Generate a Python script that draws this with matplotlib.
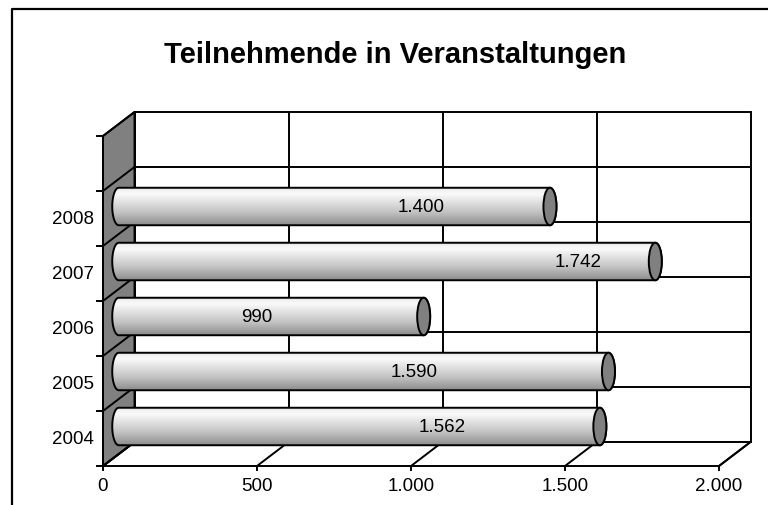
import numpy as np
import matplotlib
matplotlib.use('Agg')
import matplotlib.pyplot as plt
from matplotlib.patches import Polygon, Ellipse, PathPatch
from matplotlib.path import Path
from matplotlib.colors import LinearSegmentedColormap
from matplotlib.lines import Line2D

plt.rcParams['font.family'] = ['Liberation Sans', 'DejaVu Sans']

# ---------------- data ----------------
title = "Teilnehmende in Veranstaltungen"
years = ["2004", "2005", "2006", "2007", "2008"]
values = [1562, 1590, 990, 1742, 1400]
x_ticks = [0, 500, 1000, 1500, 2000]
x_max = 2000
n_slots = 6

# layout: value-axis positions where the data labels sit
label_pos = [1049, 959, 449, 1491, 981]


def de_fmt(v):
    return f"{v:,}".replace(",", ".")


# ---------------- figure / projection ----------------
W, H = 768, 506
fig = plt.figure(figsize=(W / 100, H / 100), dpi=100)
ax = fig.add_axes([0, 0, 1, 1])
ax.set_axis_off()

px_per_unit = 0.308
px_per_cat = 55.0
x0_px = 103
y0_px = 467
DX = 31.5 / px_per_unit
DY = 24.0 / px_per_cat
LW = 1.4


def P(v, c, d):
    return (v + d * DX, c + d * DY)


def line(p, q, **kw):
    ax.plot([p[0], q[0]], [p[1], q[1]], color='black', lw=kw.pop('lw', LW),
            solid_capstyle='butt', zorder=kw.pop('zorder', 2), **kw)


# back wall
ax.add_patch(Polygon([P(0, 0, 1), P(x_max, 0, 1), P(x_max, n_slots, 1), P(0, n_slots, 1)],
                     closed=True, fc='white', ec='black', lw=LW, zorder=1))
for v in x_ticks[1:-1]:
    line(P(v, 0, 1), P(v, n_slots, 1))
for k in range(1, n_slots):
    line(P(0, k, 1), P(x_max, k, 1))

# floor
ax.add_patch(Polygon([P(0, 0, 0), P(x_max, 0, 0), P(x_max, 0, 1), P(0, 0, 1)],
                     closed=True, fc='white', ec='black', lw=LW, zorder=1))
for v in x_ticks:
    line(P(v, 0, 0), P(v, 0, 1))
    # tick below the front edge
    ax.plot([v, v], [0, -4 / px_per_cat], color='black', lw=LW, zorder=2)
    ax.text(v, -20 / px_per_cat, de_fmt(v), ha='center', va='center', fontsize=13.5)

# left wall
ax.add_patch(Polygon([P(0, 0, 0), P(0, 0, 1), P(0, n_slots, 1), P(0, n_slots, 0)],
                     closed=True, fc='#808080', ec='black', lw=LW, zorder=1))
for k in range(0, n_slots + 1):
    line(P(0, k, 0), P(0, k, 1))
    ax.plot([-6 / px_per_unit, 0], [k, k], color='black', lw=LW, zorder=2)
ax.plot([0, 0], [0, n_slots], color='black', lw=LW, zorder=2)

for i, y in enumerate(years):
    ax.text(-9 / px_per_unit, i + 0.5, y, ha='right', va='center', fontsize=13.5)

# ---------------- cylinders ----------------
cmap = LinearSegmentedColormap.from_list(
    'cyl', [(0.0, '#8a8a8a'), (0.08, '#9a9a9a'), (0.35, '#c4c4c4'),
            (0.65, '#e6e6e6'), (0.82, '#fafafa'), (0.92, '#f2f2f2'), (1.0, '#cfcfcf')])
profile = np.linspace(0, 1, 200)[:, None]

a = 6.5 / px_per_unit
hh = 37.5 / px_per_cat / 2

for i, v in enumerate(values):
    c = i + 0.5
    xs, yc = P(0, c, 0.5)
    xe, _ = P(v, c, 0.5)
    t1 = np.linspace(np.pi / 2, 3 * np.pi / 2, 40)
    t2 = np.linspace(-np.pi / 2, np.pi / 2, 40)
    verts = np.concatenate([
        np.column_stack([xs + a * np.cos(t1), yc + hh * np.sin(t1)]),
        np.column_stack([xe + a * np.cos(t2), yc + hh * np.sin(t2)]),
    ])
    verts = np.vstack([verts, verts[:1]])
    codes = [Path.MOVETO] + [Path.LINETO] * (len(verts) - 2) + [Path.CLOSEPOLY]
    body = PathPatch(Path(verts, codes), fc='none', ec='black', lw=LW, zorder=5)
    im = ax.imshow(profile, cmap=cmap, vmin=0, vmax=1, origin='lower', aspect='auto',
                   extent=[xs - a, xe + a, yc - hh, yc + hh], interpolation='bilinear', zorder=4)
    ax.add_patch(body)
    im.set_clip_path(body)
    ax.add_patch(Ellipse((xe, yc), 2 * a, 2 * hh, fc='#808080', ec='black', lw=LW, zorder=6))
    lx, ly = P(label_pos[i], c, 0.5)
    ax.text(lx, ly, de_fmt(v), ha='center', va='center', fontsize=13.5, zorder=7)

ax.set_xlim(-x0_px / px_per_unit, (W - x0_px) / px_per_unit)
ax.set_ylim(-(H - y0_px) / px_per_cat, y0_px / px_per_cat)

# title and border
fig.text(395 / W, 1 - 63 / H, title, ha='center', va='baseline', fontsize=21, fontweight='bold')
fig.add_artist(Line2D([11.5 / W, 11.5 / W, 1], [0, 1 - 9.5 / H, 1 - 9.5 / H],
                      transform=fig.transFigure, color='black', lw=1.6))

fig.savefig('out.png', dpi=100)
